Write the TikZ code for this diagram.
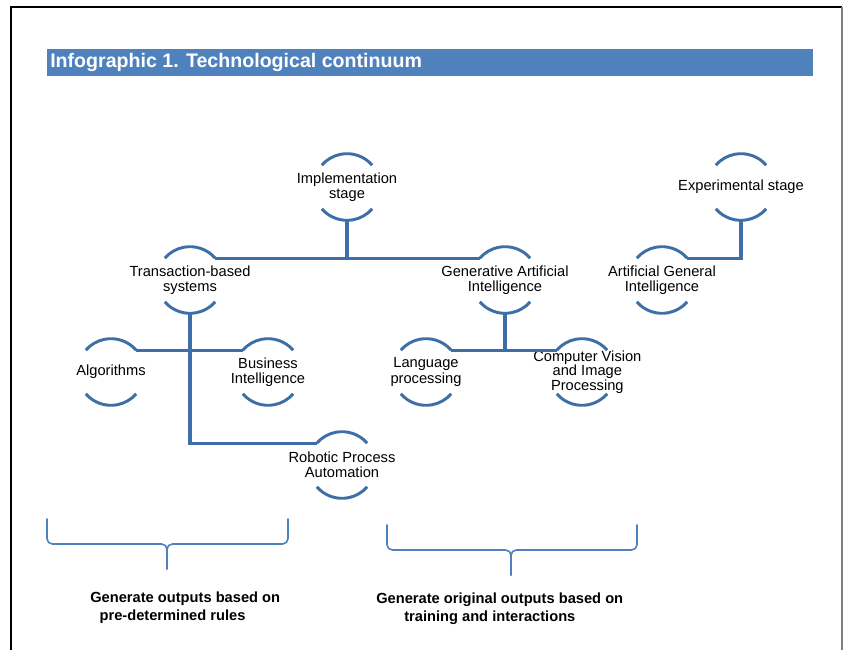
\documentclass[tikz,border=0pt]{standalone}
\usepackage{fontspec}
\setmainfont{Liberation Sans}
\definecolor{titleblue}{HTML}{4F81BD}
\definecolor{linkblue}{HTML}{3E6EA6}
\newcommand{\techfont}{\fontsize{11}{11.4}\selectfont}
\newcommand{\outfont}{\fontsize{11}{13.8}\selectfont\bfseries}
\tikzset{
        tech/.style={circle,minimum size=50pt,inner sep=0pt,outer sep=0pt},
        arcline/.style={draw=linkblue,line width=2.2pt},
        link/.style={draw=linkblue,line width=2.4pt},
        bracket/.style={draw=titleblue,line width=1.2pt,line cap=round,rounded corners=4pt},
        outtext/.style={align=left,inner sep=0pt,font=\outfont},
        every label/.style={align=center,font=\techfont,inner sep=0pt}
    }

\begin{document}
\begin{tikzpicture}[x=0.75pt,y=-0.75pt]
\useasboundingbox (0,0) rectangle (843,650);

% frame and title
\draw[line width=1.2pt] (11,650) -- (11,7) -- (842,7);
\draw[gray,line width=1pt] (842,7) -- (842,650);
\fill[titleblue] (47,49) rectangle (813,76);
\node[anchor=west,inner sep=0pt,text=white,font=\fontsize{14.7}{16}\selectfont\bfseries] (title) at (50,62.5) {Infographic 1. Technological continuum};

% stages
\node[tech,label=center:{Implementation\\stage}] (impl) at (347,187) {};
\node[tech,label=center:{Experimental stage}] (exper) at (741,187) {};
\node[tech,label=center:{Transaction-based\\systems}] (trans) at (190,280) {};
\node[tech,label=center:{Generative Artificial\\Intelligence}] (genai) at (505,280) {};
\node[tech,label=center:{Artificial General\\Intelligence}] (agi) at (662,280) {};
\node[tech,label=center:{Algorithms}] (alg) at (111,372) {};
\node[tech,label=center:{Business\\Intelligence}] (bi) at (268,372) {};
\node[tech,label=center:{Language\\processing}] (lang) at (426,372) {};
\node[tech,label={[xshift=4pt,font=\fontsize{11}{10.8}\selectfont]center:{Computer Vision\\and Image\\Processing}}] (cv) at (582,372) {};
\node[tech,label=center:{Robotic Process\\Automation}] (rpa) at (342,465) {};

% open circles
\foreach \n in {impl,exper,trans,genai,agi,alg,bi,lang,cv,rpa}{
  \draw[arcline] (\n.41) arc[start angle=41,end angle=139,radius=25pt];
  \draw[arcline] (\n.221) arc[start angle=221,end angle=319,radius=25pt];
}

% tree
\draw[link] (trans.41) -- (genai.139);
\draw[link] (impl.south) -- (impl.south |- trans.41);
\draw[link] (exper.south) |- (agi.41);
\draw[link] (alg.41) -- (bi.139);
\draw[link] (trans.south) |- (rpa.139);
\draw[link] (lang.41) -- (cv.139);
\draw[link] (genai.south) -- (genai.south |- lang.41);

% braces
\draw[bracket] (47,519) -- (47,544) -- (167,544) -- (167,569);
\draw[bracket] (167,569) -- (167,544) -- (288,544) -- (288,519);
\draw[bracket] (387,525) -- (387,550) -- (511,550) -- (511,575);
\draw[bracket] (511,575) -- (511,550) -- (637,550) -- (637,525);

\node[outtext,anchor=west] (rules) at (90,608) {Generate outputs based on\\\hspace*{7pt}pre-determined rules};
\node[outtext,anchor=west] (training) at (376,609) {Generate original outputs based on\\\hspace*{21pt}training and interactions};

\end{tikzpicture}
\end{document}
